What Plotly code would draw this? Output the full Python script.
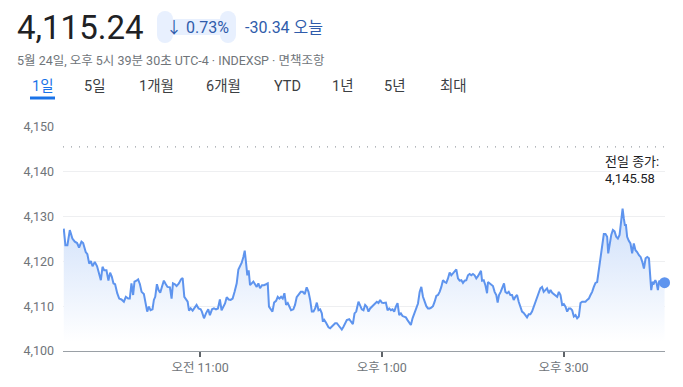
import plotly.graph_objects as go

# ---------------- data ----------------
minutes_after_open = [
    0.0, 1.1, 2.4, 4.0, 5.7, 7.3, 8.8, 10.1, 11.7, 12.8, 14.5, 15.6, 16.8, 17.9, 19.0, 20.5,
    22.0, 23.4, 24.5, 25.6, 26.7, 28.2, 29.5, 30.6, 31.7, 32.8, 33.9, 35.3, 36.6, 38.1, 39.7,
    41.0, 42.5, 43.6, 44.7, 45.8, 46.7, 48.0, 49.1, 50.3, 51.4, 52.9, 54.0, 55.1, 56.2, 57.3,
    58.6, 59.5, 60.4, 61.5, 62.6, 63.7, 64.8, 66.1, 67.4, 68.5, 70.1, 71.2, 72.1, 73.4, 74.5,
    76.0, 77.4, 78.5, 79.6, 80.7, 81.8, 82.7, 83.8, 85.1, 86.2, 87.7, 89.0, 90.4, 91.2, 92.6,
    93.9, 95.4, 96.5, 97.9, 99.2, 100.5, 101.8, 103.1, 104.2, 105.4, 106.5, 107.6, 108.9,
    110.2, 111.5, 112.8, 114.2, 115.3, 116.4, 117.5, 118.6, 119.5, 120.3, 121.2, 122.1, 123.0,
    124.1, 125.2, 126.3, 127.4, 128.5, 129.6, 130.9, 132.2, 133.6, 134.7, 135.5, 136.6, 137.8,
    138.9, 140.2, 141.3, 142.4, 143.5, 144.6, 145.7, 146.8, 147.9, 149.0, 150.1, 151.6, 152.7,
    153.8, 155.2, 156.5, 157.8, 159.1, 160.4, 161.6, 162.7, 163.8, 164.9, 166.0, 167.1, 168.2,
    169.3, 170.4, 171.0, 171.9, 173.2, 174.8, 175.9, 177.0, 178.1, 179.2, 180.3, 181.4, 182.5,
    183.6, 184.7, 185.8, 186.9, 188.5, 189.6, 190.9, 192.0, 193.1, 194.6, 195.7, 196.8, 197.9,
    199.0, 200.1, 201.2, 202.3, 203.4, 204.5, 205.6, 206.7, 207.8, 208.9, 210.0, 211.2, 212.7,
    213.8, 214.9, 216.0, 217.1, 218.2, 219.3, 220.4, 221.5, 222.6, 223.7, 224.8, 225.9, 227.0,
    228.1, 229.2, 230.3, 231.4, 232.8, 233.9, 235.0, 236.1, 237.2, 238.3, 239.4, 240.5, 241.6,
    242.7, 243.8, 244.9, 246.0, 247.1, 248.2, 249.3, 250.4, 251.5, 252.6, 253.7, 254.8, 255.9,
    257.0, 258.1, 259.2, 260.3, 261.4, 262.5, 263.6, 264.7, 265.8, 266.9, 268.0, 269.1, 270.2,
    271.3, 272.4, 273.5, 274.6, 275.5, 276.2, 277.3, 278.4, 279.5, 280.1, 281.2, 282.3, 283.4,
    284.5, 285.6, 286.5, 287.4, 288.5, 289.6, 290.7, 291.6, 292.7, 293.8, 294.9, 296.0, 297.1,
    298.2, 299.3, 300.4, 301.5, 302.6, 303.7, 304.8, 305.9, 307.0, 308.1, 309.2, 310.3, 311.4,
    312.5, 313.6, 314.7, 315.8, 316.9, 318.0, 319.1, 320.3, 321.4, 322.5, 323.6, 324.7, 325.8,
    326.9, 328.0, 329.1, 330.2, 331.3, 332.4, 333.5, 334.6, 335.7, 336.8, 337.9, 339.0, 340.1,
    341.2, 342.3, 343.4, 344.5, 345.6, 346.7, 347.8, 348.9, 350.0, 351.1, 352.2, 353.3, 354.4,
    355.5, 356.6, 357.7, 358.8, 359.5, 360.6, 361.5, 362.6, 363.7, 364.8, 365.9, 367.0, 368.1,
    369.0, 369.8, 370.5, 371.2, 372.0, 373.1, 374.2, 375.3, 376.4, 377.5, 378.6, 379.8, 380.9,
    382.0, 383.1, 384.2, 385.3, 386.4, 387.0, 387.9, 388.8, 389.7, 390.6, 391.4, 392.3, 393.2,
    394.1, 395.2, 396.7,
]
index_values = [
    4127.3, 4123.6, 4123.6, 4127.0, 4125.1, 4124.4, 4124.1, 4123.1, 4124.4, 4124.1, 4122.1, 4121.6, 4119.5, 4120.1, 4118.9, 4119.9,
    4118.9, 4116.9, 4115.8, 4118.8, 4118.0, 4118.0, 4115.7, 4117.5, 4116.6, 4115.1, 4114.9, 4112.9, 4111.7, 4111.5, 4111.0,
    4112.1, 4111.7, 4111.7, 4115.1, 4112.5, 4115.5, 4115.7, 4116.0, 4114.9, 4113.2, 4112.7, 4110.8, 4108.8, 4109.9, 4109.1,
    4109.3, 4111.4, 4112.1, 4114.9, 4113.6, 4113.0, 4114.3, 4115.7, 4114.9, 4114.3, 4114.2, 4111.7, 4115.1, 4114.9, 4114.5,
    4115.1, 4116.0, 4116.3, 4112.1, 4111.4, 4111.0, 4109.0, 4109.5, 4109.0, 4109.5, 4110.3, 4109.5, 4109.3, 4108.8, 4107.3,
    4108.4, 4109.3, 4108.0, 4109.3, 4109.5, 4109.3, 4109.5, 4111.5, 4109.1, 4109.9, 4110.6, 4112.0, 4111.5,
    4111.4, 4111.7, 4113.2, 4115.1, 4118.2, 4118.8, 4119.7, 4121.0, 4122.4, 4119.9, 4116.9, 4118.0, 4114.7,
    4115.1, 4115.5, 4114.9, 4114.3, 4115.1, 4114.0, 4114.7, 4114.7, 4114.9, 4115.1, 4109.9, 4109.3, 4108.8,
    4110.8, 4111.2, 4112.1, 4111.7, 4112.1, 4111.7, 4112.9, 4110.3, 4110.7, 4109.9, 4109.1, 4109.3, 4110.3,
    4112.0, 4112.7, 4113.2, 4113.2, 4112.7, 4114.2, 4113.2, 4111.4, 4108.8, 4108.8, 4109.5, 4110.8, 4109.1,
    4109.3, 4108.4, 4106.8, 4107.0, 4106.3, 4105.3, 4105.1, 4105.4, 4105.8, 4106.2, 4106.2, 4105.8, 4105.4,
    4104.8, 4105.4, 4106.2, 4106.9, 4107.1, 4106.5, 4106.0, 4108.4, 4108.8, 4111.0, 4109.9, 4109.3, 4109.1,
    4110.3, 4109.9, 4108.8, 4109.5, 4109.9, 4110.3, 4110.5, 4111.0, 4110.7, 4111.4, 4110.8, 4110.7, 4110.8,
    4109.1, 4109.5, 4109.1, 4109.3, 4108.8, 4109.9, 4110.7, 4108.0, 4108.4, 4107.8, 4107.7, 4107.5, 4106.9,
    4106.3, 4105.8, 4107.3, 4108.4, 4109.3, 4110.6, 4113.2, 4114.3, 4112.1, 4111.0, 4110.0, 4109.5, 4109.5,
    4109.7, 4110.0, 4111.0, 4112.3, 4112.5, 4113.2, 4114.3, 4115.8, 4115.4, 4115.2, 4116.2, 4117.5, 4116.9,
    4117.3, 4117.6, 4118.2, 4116.2, 4115.7, 4115.8, 4115.2, 4115.7, 4115.8, 4116.9, 4117.2, 4116.9, 4117.2,
    4116.9, 4116.2, 4116.7, 4117.3, 4117.9, 4115.7, 4115.8, 4114.7, 4112.9, 4115.4, 4115.1, 4114.9, 4114.5,
    4113.2, 4112.5, 4110.8, 4112.5, 4113.2, 4114.0, 4115.1, 4113.2, 4112.9, 4113.2, 4112.5, 4112.5, 4111.4,
    4112.1, 4112.5, 4111.0, 4109.7, 4108.8, 4108.5, 4108.0, 4107.5, 4108.2, 4108.2, 4108.8, 4109.9, 4111.0,
    4112.1, 4113.2, 4114.0, 4114.3, 4113.2, 4113.6, 4114.0, 4112.9, 4113.6, 4113.0, 4112.7, 4112.5, 4112.1,
    4113.2, 4112.5, 4110.3, 4110.5, 4109.9, 4108.8, 4109.5, 4109.5, 4109.1, 4107.7, 4108.0, 4107.3, 4107.7,
    4110.7, 4111.0, 4111.0, 4111.0, 4111.4, 4111.7, 4112.5, 4113.2, 4114.3, 4115.2, 4115.4, 4118.1, 4121.0,
    4123.3, 4126.1, 4126.1, 4125.5, 4121.8, 4124.4, 4125.9, 4127.0, 4126.7, 4125.5, 4125.1, 4125.9, 4128.5,
    4131.8, 4129.6, 4128.1, 4128.1, 4125.5, 4124.6, 4124.0, 4121.8, 4124.0, 4122.5, 4122.1, 4121.4, 4121.0,
    4119.9, 4118.4, 4120.7, 4121.0, 4120.7, 4116.6, 4113.6, 4115.4, 4115.1, 4115.8, 4115.2, 4113.6, 4115.7,
    4115.1, 4115.4, 4115.24,
]
previous_close = 4145.58
y_ticks = [4100, 4110, 4120, 4130, 4140, 4150]
x_tick_minutes = [90, 210, 330]
x_tick_labels = ["오전 11:00", "오후 1:00", "오후 3:00"]
price_text = "4,115.24"
change_pct_text = "↓ 0.73%"
change_abs_text = "-30.34 오늘"
subtitle_text = "5월 24일, 오후 5시 39분 30초 UTC-4 · INDEXSP · 면책조항"
tab_labels = ["1일", "5일", "1개월", "6개월", "YTD", "1년", "5년", "최대"]
tab_centers_px = [43, 95, 156, 223, 287, 343, 395, 453]
prev_close_label = "전일 종가:<br>4,145.58"

# ---------------- layout geometry ----------------
OFF = 8                      # page body margin
W, H = 683 - OFF, 387 - OFF
L, R, T, B = 63 - OFF, 665 - OFF, 127 - OFF, 351 - OFF
FONT = "Roboto, 'Noto Sans CJK KR', sans-serif"
BLUE_LINE = "#5e94ee"
BADGE = "#e8f0fe"


def px_x(x):
    return (x - OFF - L) / (R - L)


def px_y(y):
    return (B - (y - OFF)) / (B - T)


fig = go.Figure()

fig.add_trace(go.Scatter(
    x=minutes_after_open, y=index_values, mode="lines",
    line=dict(color=BLUE_LINE, width=2),
    fill="tozeroy",
    fillgradient=dict(type="vertical",
                      colorscale=[[0, "rgba(255,255,255,1)"], [1, "rgba(206,223,250,1)"]],
                      start=4102, stop=4132),
    hoverinfo="skip", showlegend=False,
))
fig.add_trace(go.Scatter(
    x=[minutes_after_open[-1]], y=[index_values[-1]], mode="markers",
    marker=dict(color=BLUE_LINE, size=11), cliponaxis=False,
    hoverinfo="skip", showlegend=False,
))

fig.add_hline(y=previous_close, line=dict(color="#9aa0a6", width=1.3, dash="1px,7px"))

ann = []
ann.append(dict(xref="paper", yref="paper", x=px_x(603), y=px_y(152), xanchor="left", yanchor="top",
                text=prev_close_label, align="left", showarrow=False,
                font=dict(family=FONT, size=13, color="#202124")))
ann.append(dict(xref="paper", yref="paper", x=px_x(15), y=px_y(27), xanchor="left", yanchor="middle",
                text=price_text, showarrow=False, font=dict(family=FONT, size=33, color="#202124")))
ann.append(dict(xref="paper", yref="paper", x=px_x(197), y=px_y(27), xanchor="center", yanchor="middle",
                text=change_pct_text, showarrow=False, font=dict(family=FONT, size=16, color="#2f5cab")))
ann.append(dict(xref="paper", yref="paper", x=px_x(243), y=px_y(27), xanchor="left", yanchor="middle",
                text=change_abs_text, showarrow=False, font=dict(family=FONT, size=16, color="#2f5cab")))
ann.append(dict(xref="paper", yref="paper", x=px_x(15), y=px_y(60), xanchor="left", yanchor="middle",
                text=subtitle_text, showarrow=False, font=dict(family=FONT, size=12.5, color="#70757a")))
for i, (lab, cx) in enumerate(zip(tab_labels, tab_centers_px)):
    ann.append(dict(xref="paper", yref="paper", x=px_x(cx), y=px_y(86), xanchor="center", yanchor="middle",
                    text=lab, showarrow=False,
                    font=dict(family=FONT, size=14.5, color="#1a73e8" if i == 0 else "#3c4043")))

shapes = []
# rounded badge built from two rects and four corner circles
bx0, bx1, by0, by1, r = 157, 236, 11, 43, 8
common = dict(xref="paper", yref="paper", fillcolor=BADGE, line=dict(width=0), layer="above")
shapes.append(dict(type="rect", x0=px_x(bx0 + r), x1=px_x(bx1 - r), y0=px_y(by1), y1=px_y(by0), **common))
shapes.append(dict(type="rect", x0=px_x(bx0), x1=px_x(bx1), y0=px_y(by1 - r), y1=px_y(by0 + r), **common))
for cx in (bx0 + r, bx1 - r):
    for cy in (by0 + r, by1 - r):
        shapes.append(dict(type="circle", x0=px_x(cx - r), x1=px_x(cx + r),
                           y0=px_y(cy + r), y1=px_y(cy - r), **common))
# active tab underline
shapes.append(dict(type="rect", xref="paper", yref="paper", x0=px_x(30), x1=px_x(55),
                   y0=px_y(99.5), y1=px_y(96.5), fillcolor="#1a73e8", line=dict(width=0),
                   layer="above"))

fig.update_layout(
    width=W, height=H, autosize=False,
    margin=dict(l=L, r=W - R, t=T, b=H - B, pad=0),
    paper_bgcolor="white", plot_bgcolor="white",
    font=dict(family=FONT, color="#70757a"),
    annotations=ann, shapes=shapes,
    xaxis=dict(range=[-0.5, 397], tickvals=x_tick_minutes, ticktext=x_tick_labels,
               showgrid=False, zeroline=False, showline=True, linecolor="#9aa0a6", linewidth=1,
               ticks="outside", ticklen=5, tickwidth=2, tickcolor="#5f6368",
               tickfont=dict(family=FONT, size=12.5, color="#70757a"), fixedrange=True),
    yaxis=dict(range=[4100, 4150], tickvals=y_ticks, tickformat=",", showgrid=True,
               gridcolor="#eeeff1", gridwidth=1, zeroline=False, showline=False,
               ticks="", ticklabelstandoff=8,
               tickfont=dict(family=FONT, size=12.5, color="#70757a"), fixedrange=True),
    hovermode=False,
)

fig.write_html("out.html")
